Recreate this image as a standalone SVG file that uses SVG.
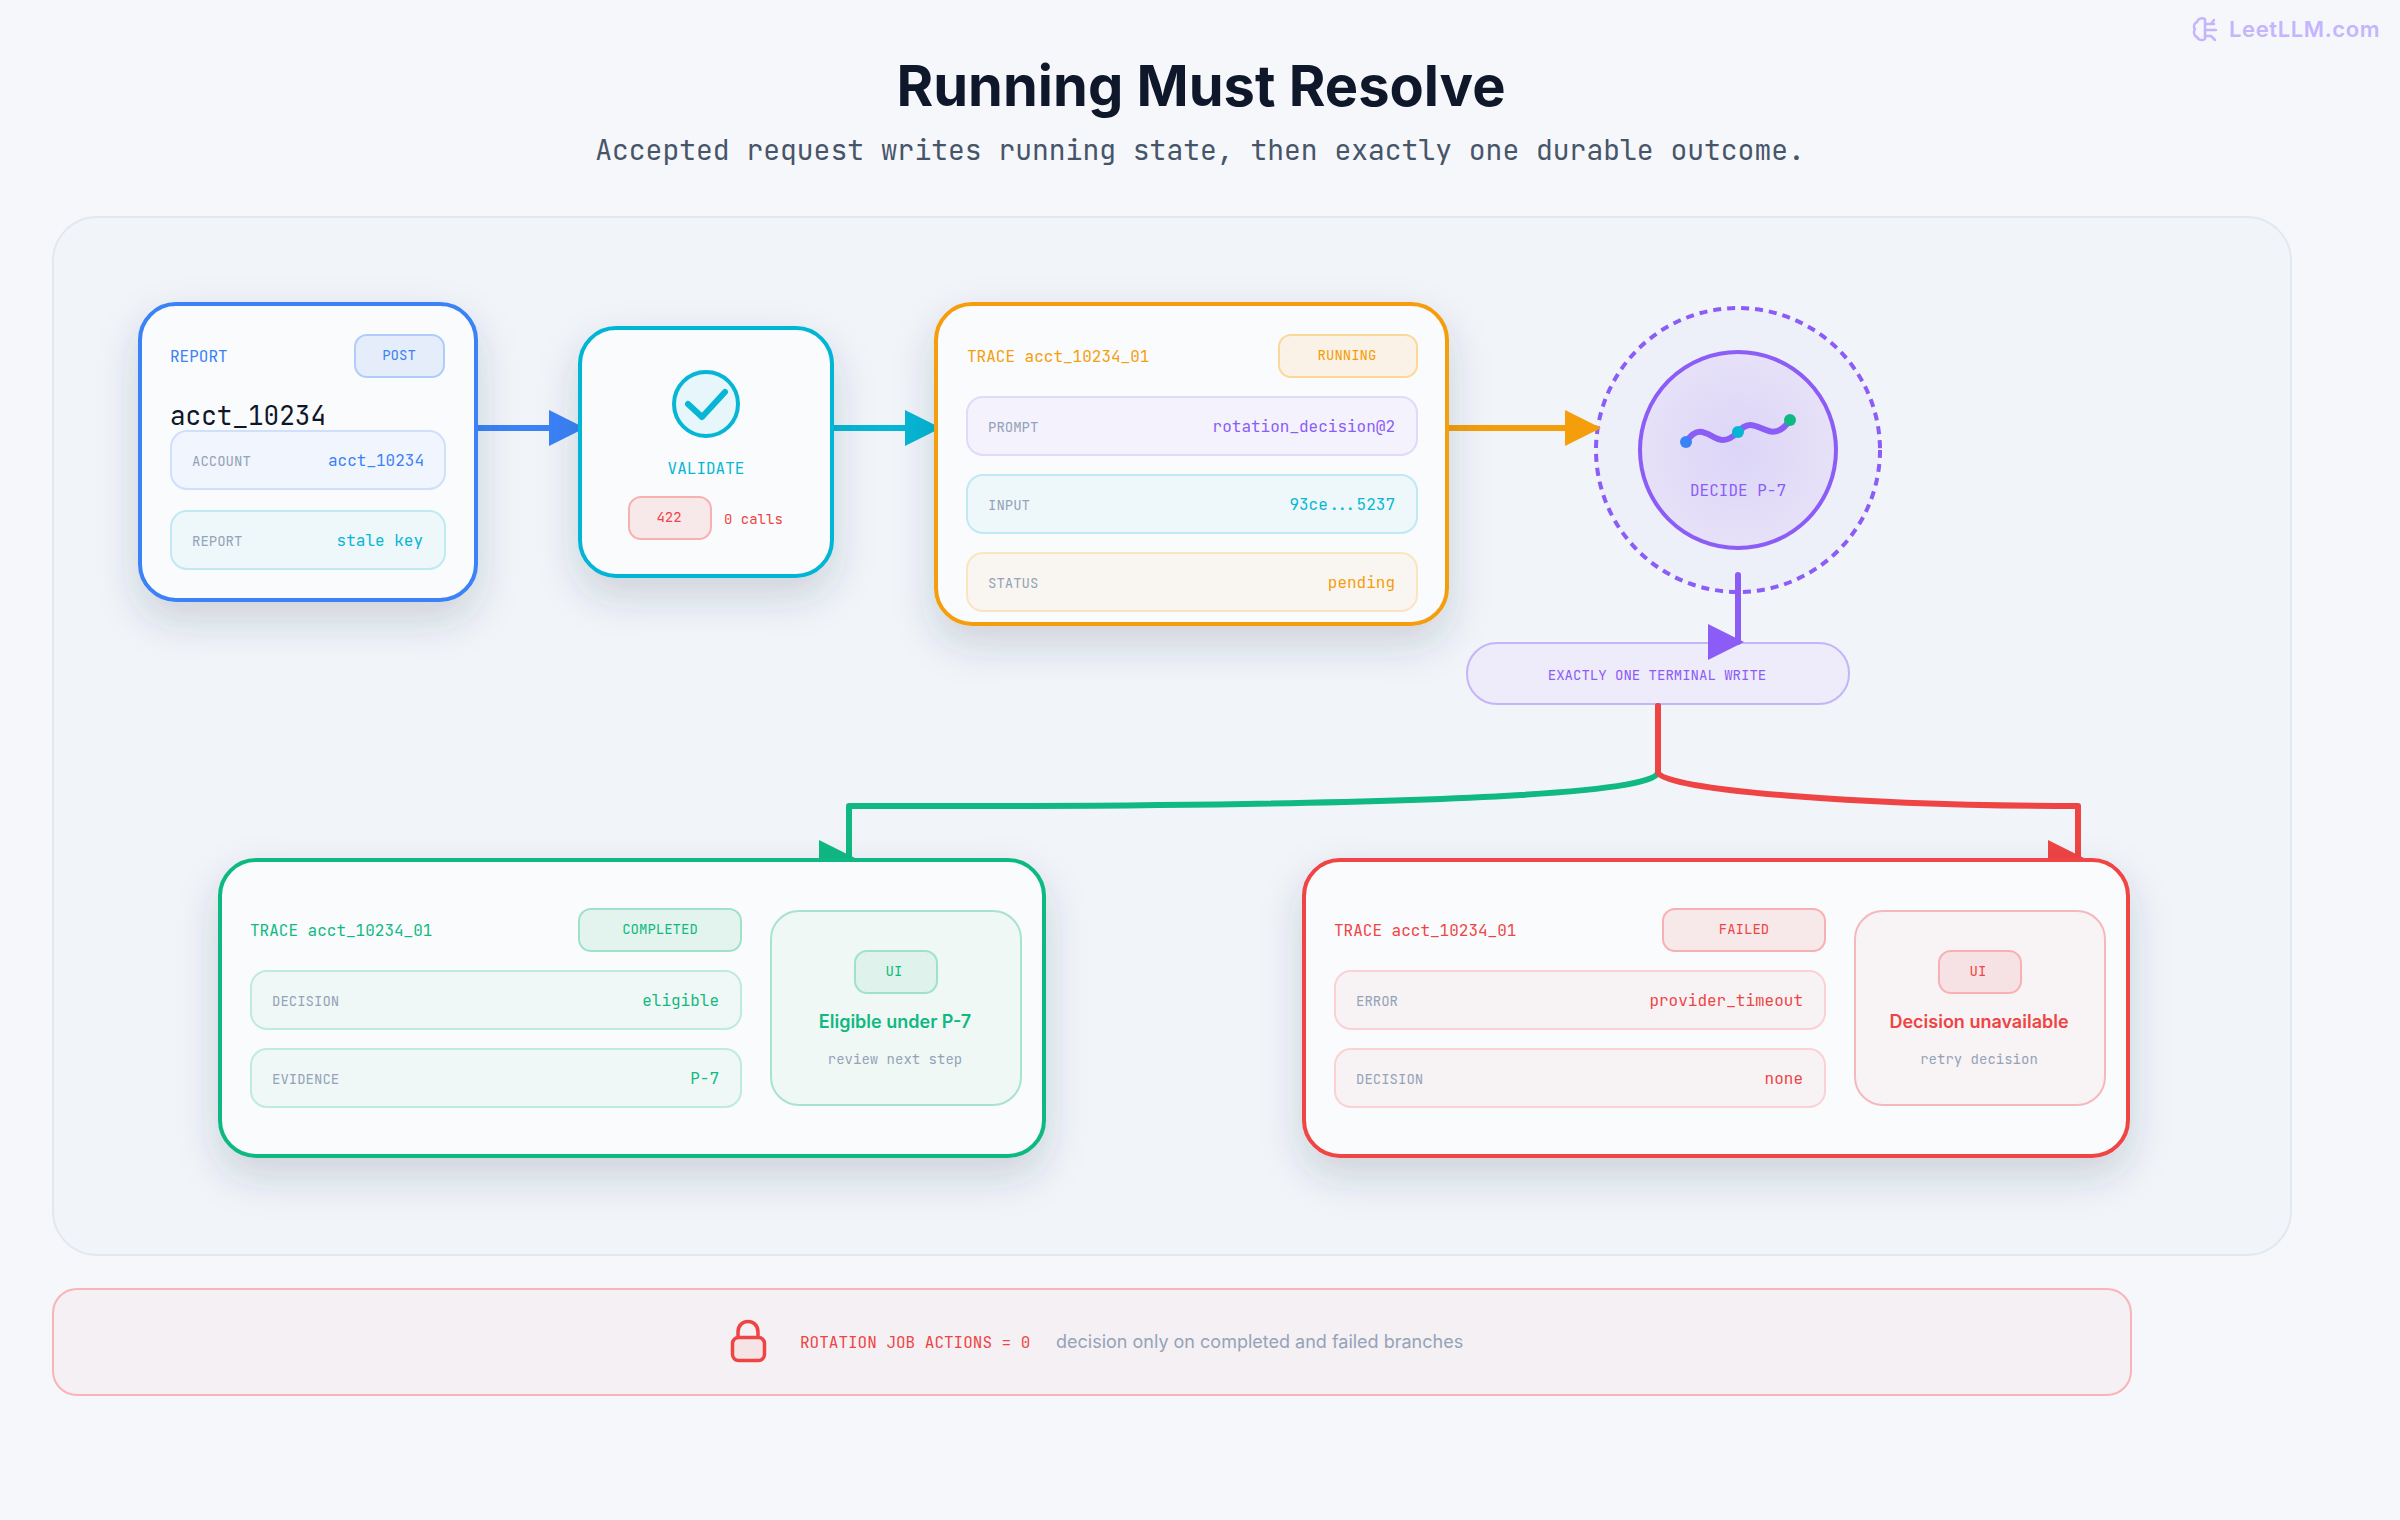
<svg xmlns="http://www.w3.org/2000/svg" width="2400" height="1520" viewBox="0 0 2400 1520">
<style>
text{font-family:"JetBrains Mono","Liberation Mono",monospace}
.lb{font-size:16px}
.sm{font-size:14px;fill:#94a3b8}
.val{font-size:16px;text-anchor:end}
.pl{font-size:14px;text-anchor:middle}
.card{fill:#fafbfd;stroke-width:4;filter:url(#sh)}
.row,.pill{stroke-width:2}
.blue{fill:#3b82f6}.cyan{fill:#06b6d4}.amber{fill:#f59e0b}.violet{fill:#8b5cf6}.green{fill:#10b981}.red{fill:#ef4444}
.rb{fill:#f0f5fe;stroke:#cfdffc}.rc{fill:#eef8fa;stroke:#bfeaf2}.rv{fill:#f3f2fd;stroke:#e1d9fb}.ra{fill:#f9f6f2;stroke:#fbe4c0}.rg{fill:#eff8f6;stroke:#bdebdc}.rr{fill:#f7f3f5;stroke:#fad2d4}
.pb{fill:#e5edfb;stroke:#b1cbfb}.pa{fill:#faf2e6;stroke:#fbd89a}.pg{fill:#e3f4ef;stroke:#9fe2c9}.pr{fill:#f7e8ea;stroke:#f9b0b2}
.conn{fill:none;stroke-width:6;stroke-linecap:round;stroke-linejoin:round}
text.sans{font-family:Inter,"Liberation Sans",sans-serif}
</style>
<defs>
<filter id="sh" x="-20%" y="-20%" width="140%" height="150%"><feDropShadow dx="0" dy="18" stdDeviation="20" flood-color="#334155" flood-opacity="0.18"/></filter>
<radialGradient id="dg"><stop offset="0" stop-color="#dcd5f8"/><stop offset="1" stop-color="#e6e1f8"/></radialGradient>
<marker id="mb" markerWidth="6" markerHeight="6" refX="5" refY="3"><path d="M0 0L6 3L0 6Z" fill="#3b82f6"/></marker>
<marker id="mc" markerWidth="6" markerHeight="6" refX="5" refY="3"><path d="M0 0L6 3L0 6Z" fill="#06b6d4"/></marker>
<marker id="ma" markerWidth="6" markerHeight="6" refX="5" refY="3"><path d="M0 0L6 3L0 6Z" fill="#f59e0b"/></marker>
<marker id="mv" markerWidth="6" markerHeight="6" refX="5" refY="3"><path d="M0 0L6 3L0 6Z" fill="#8b5cf6"/></marker>
<marker id="mg" markerWidth="6" markerHeight="6" refX="5" refY="3"><path d="M0 0L6 3L0 6Z" fill="#10b981"/></marker>
<marker id="mr" markerWidth="6" markerHeight="6" refX="5" refY="3"><path d="M0 0L6 3L0 6Z" fill="#ef4444"/></marker>
</defs>
<rect width="2400" height="1520" fill="#f6f7fb"/>
<g id="header">
<text class="sans" x="1201" y="106" text-anchor="middle" font-size="56" font-weight="700" fill="#0f172a">Running Must Resolve</text>
<text x="1200" y="160" text-anchor="middle" font-size="28" fill="#475569">Accepted request writes running state, then exactly one durable outcome.</text>
</g>
<g id="logo">
<g fill="none" stroke="#c4b5fd" stroke-width="2.5" stroke-linecap="round" stroke-linejoin="round"><path d="M2205 19C2201 17 2198 19 2197 22C2194 23 2193 27 2195 29C2193 32 2194 36 2197 37C2198 40 2202 41 2205 39V19Z"/><path d="M2205 24H2214M2205 30H2216M2205 36H2211L2215 40M2211 24L2214 20"/></g>
<text class="sans" x="2229" y="37" font-size="22" font-weight="600" letter-spacing="0.6" fill="#c4b5fd">LeetLLM.com</text>
</g>
<rect id="panel" x="53" y="217" width="2238" height="1038" rx="44" fill="#f1f4f9" stroke="#e2e8f0" stroke-width="2"/>
<g id="decide">
<circle cx="1738" cy="450" r="142" fill="#eef0f9" stroke="#8b5cf6" stroke-width="4" stroke-dasharray="8 6"/>
<circle cx="1738" cy="450" r="98" fill="url(#dg)" stroke="#8b5cf6" stroke-width="4"/>
<path d="M1686 442C1690 436 1695 431.700 1700 431.700C1708 431.700 1715 440 1723 440C1729 440 1734 436 1738 432C1742 428 1745 425 1750 425C1758 425 1765 431.700 1773 431.700C1780 431.700 1786 426 1790 420" fill="none" stroke="#8b5cf6" stroke-width="6" stroke-linecap="round"/>
<circle cx="1686" cy="442" r="6" class="blue"/><circle cx="1738" cy="432" r="6" class="cyan"/><circle cx="1790" cy="420" r="6" class="green"/>
<text class="lb violet" x="1738" y="496" text-anchor="middle">DECIDE P-7</text>
</g>
<g id="terminal-write">
<rect x="1467" y="643" width="382" height="61" rx="30" fill="#eeebfa" stroke="#c4b5f7" stroke-width="2"/>
<text class="pl violet" x="1657" y="680">EXACTLY ONE TERMINAL WRITE</text>
</g>
<g id="connectors">
<path class="conn" stroke="#3b82f6" marker-end="url(#mb)" d="M476 428H579"/>
<path class="conn" stroke="#06b6d4" marker-end="url(#mc)" d="M832 428H935"/>
<path class="conn" stroke="#f59e0b" marker-end="url(#ma)" d="M1446 428H1595"/>
<path class="conn" stroke="#8b5cf6" marker-end="url(#mv)" d="M1738 575V642"/>
<path class="conn" stroke="#10b981" marker-end="url(#mg)" d="M1658 706V772C1658 790 1500 804 1030 806H849V858"/>
<path class="conn" stroke="#ef4444" marker-end="url(#mr)" d="M1658 706V772C1658 790 1868 806 2078 806V858"/>
</g>
<g id="report">
<rect class="card" x="140" y="304" width="336" height="296" rx="36" stroke="#3b82f6"/>
<text class="lb blue" x="170" y="362">REPORT</text>
<rect class="pill pb" x="355" y="335" width="89" height="42" rx="12"/>
<text class="pl blue" x="399" y="360">POST</text>
<text x="170" y="425" font-size="26" fill="#0f172a">acct_10234</text>
<rect class="row rb" x="171" y="431" width="274" height="58" rx="16"/>
<text class="sm" x="192" y="466">ACCOUNT</text><text class="val blue" x="424" y="466">acct_10234</text>
<rect class="row rc" x="171" y="511" width="274" height="58" rx="16"/>
<text class="sm" x="192" y="546">REPORT</text><text class="val cyan" x="423" y="546">stale key</text>
</g>
<g id="validate">
<rect class="card" x="580" y="328" width="252" height="248" rx="36" stroke="#06b6d4"/>
<circle cx="706" cy="404" r="32" fill="#e6f6fa" stroke="#06b6d4" stroke-width="4"/>
<path d="M688 404L702 417L725 392" fill="none" stroke="#06b6d4" stroke-width="6" stroke-linecap="round" stroke-linejoin="round"/>
<text class="lb cyan" x="706" y="474" text-anchor="middle">VALIDATE</text>
<rect class="pill pr" x="629" y="497" width="82" height="42" rx="12"/>
<text class="pl red" x="669" y="522">422</text>
<text class="red" x="724" y="524" font-size="14">0 calls</text>
</g>
<g id="trace-running">
<rect class="card" x="936" y="304" width="511" height="320" rx="36" stroke="#f59e0b"/>
<text class="lb amber" x="967" y="362">TRACE acct_10234_01</text>
<rect class="pill pa" x="1279" y="335" width="138" height="42" rx="12"/>
<text class="pl amber" x="1347" y="360">RUNNING</text>
<rect class="row rv" x="967" y="397" width="450" height="58" rx="16"/>
<text class="sm" x="988" y="432">PROMPT</text><text class="val violet" x="1395" y="432">rotation_decision@2</text>
<rect class="row rc" x="967" y="475" width="450" height="58" rx="16"/>
<text class="sm" x="988" y="510">INPUT</text><text class="val cyan" x="1395" y="510">93ce...5237</text>
<rect class="row ra" x="967" y="553" width="450" height="58" rx="16"/>
<text class="sm" x="988" y="588">STATUS</text><text class="val amber" x="1395" y="588">pending</text>
</g>
<g id="trace-completed">
<rect class="card" x="220" y="860" width="824" height="296" rx="36" stroke="#10b981"/>
<text class="lb green" x="250" y="936">TRACE acct_10234_01</text>
<rect class="pill pg" x="579" y="909" width="162" height="42" rx="12"/>
<text class="pl green" x="660" y="934">COMPLETED</text>
<rect class="row rg" x="251" y="971" width="490" height="58" rx="16"/>
<text class="sm" x="272" y="1006">DECISION</text><text class="val green" x="719" y="1006">eligible</text>
<rect class="row rg" x="251" y="1049" width="490" height="58" rx="16"/>
<text class="sm" x="272" y="1084">EVIDENCE</text><text class="val green" x="719" y="1084">P-7</text>
<rect x="771" y="911" width="250" height="194" rx="28" fill="#f0f8f6" stroke="#a7e3cf" stroke-width="2"/>
<rect class="pill" x="855" y="951" width="82" height="42" rx="12" fill="#dff3ec" stroke="#9fe2c9"/>
<text class="pl green" x="894" y="976">UI</text>
<text class="sans green" x="895" y="1028" text-anchor="middle" font-size="18" font-weight="600">Eligible under P-7</text>
<text x="895" y="1064" text-anchor="middle" font-size="14" fill="#94a3b8">review next step</text>
</g>
<g id="trace-failed">
<rect class="card" x="1304" y="860" width="824" height="296" rx="36" stroke="#ef4444"/>
<text class="lb red" x="1334" y="936">TRACE acct_10234_01</text>
<rect class="pill pr" x="1663" y="909" width="162" height="42" rx="12"/>
<text class="pl red" x="1744" y="934">FAILED</text>
<rect class="row rr" x="1335" y="971" width="490" height="58" rx="16"/>
<text class="sm" x="1356" y="1006">ERROR</text><text class="val red" x="1803" y="1006">provider_timeout</text>
<rect class="row rr" x="1335" y="1049" width="490" height="58" rx="16"/>
<text class="sm" x="1356" y="1084">DECISION</text><text class="val red" x="1803" y="1084">none</text>
<rect x="1855" y="911" width="250" height="194" rx="28" fill="#f8f3f5" stroke="#f6b9bb" stroke-width="2"/>
<rect class="pill" x="1939" y="951" width="82" height="42" rx="12" fill="#f6e2e5" stroke="#f9b0b2"/>
<text class="pl red" x="1978" y="976">UI</text>
<text class="sans red" x="1979" y="1028" text-anchor="middle" font-size="18" font-weight="600">Decision unavailable</text>
<text x="1979" y="1064" text-anchor="middle" font-size="14" fill="#94a3b8">retry decision</text>
</g>
<g id="footer">
<rect x="53" y="1289" width="2078" height="106" rx="24" fill="#f4f0f4" stroke="#f8b4b8" stroke-width="2"/>
<rect x="732.500" y="1337.500" width="32" height="23" rx="6" fill="#f6e3e6" stroke="#ef4444" stroke-width="3.500"/>
<path d="M738 1337V1332C738 1318 758 1318 758 1332V1337" fill="none" stroke="#ef4444" stroke-width="3.500"/>
<text class="lb red" x="800" y="1348">ROTATION JOB ACTIONS = 0</text>
<text class="sans" x="1056" y="1348" font-size="18" fill="#94a3b8">decision only on completed and failed branches</text>
</g>
</svg>
